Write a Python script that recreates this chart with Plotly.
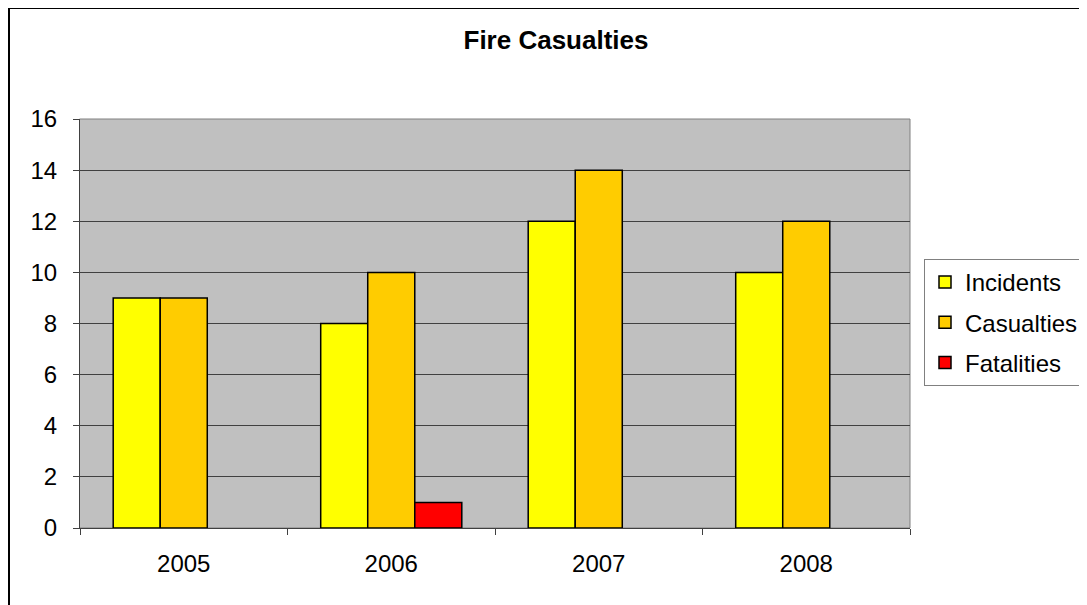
import plotly.graph_objects as go

years = ["2005", "2006", "2007", "2008"]
incidents = [9, 8, 12, 10]
casualties = [9, 10, 14, 12]
fatalities = [None, 1, None, None]

series = [
    ("Incidents", incidents, "#FFFF00"),
    ("Casualties", casualties, "#FFCC00"),
    ("Fatalities", fatalities, "#FF0000"),
]

FONT = "Liberation Sans, Arial, sans-serif"

fig = go.Figure()
for name, vals, col in series:
    fig.add_trace(go.Bar(
        x=years, y=vals, name=name,
        marker=dict(color=col, line=dict(color="#000000", width=1.5)),
        legendgroup=name,
    ))

# page body has an 8px margin; figure coordinates = reference - 8
OFF = 8
W, H = 1130, 605 - OFF
L, R, T, B = 80 - OFF, W - (910 - OFF), 119 - OFF, H - (528 - OFF)
pw, ph = W - L - R, H - T - B


def px_x(p):
    return (p - OFF - L) / pw


def px_y(p):
    return (H - B - (p - OFF)) / ph


fig.update_layout(
    width=W, height=H,
    margin=dict(l=L, r=R, t=T, b=B, pad=0),
    paper_bgcolor="white",
    plot_bgcolor="#C0C0C0",
    barmode="group",
    bargap=0.32,
    bargroupgap=0,
    font=dict(family=FONT, size=24, color="#000000"),
    title=dict(text="<b>Fire Casualties</b>", font=dict(family=FONT, size=26),
               x=px_x(556), xref="paper", xanchor="center",
               y=1 - (40 - OFF) / H, yref="container", yanchor="middle"),
    showlegend=True,
    legend=dict(
        x=px_x(924), xanchor="left", y=px_y(259), yanchor="top",
        bordercolor="#808080", borderwidth=1, bgcolor="white",
        font=dict(family=FONT, size=24),
        traceorder="grouped", tracegroupgap=6, itemwidth=30,
    ),
    xaxis=dict(
        type="category", tickson="boundaries", ticks="outside", ticklen=6,
        tickcolor="#404040", showline=True, linecolor="#404040", linewidth=1,
        showgrid=False, ticklabelstandoff=14,
    ),
    yaxis=dict(
        range=[0, 16], dtick=2, ticks="outside", ticklen=6, tickcolor="#404040",
        showline=True, linecolor="#404040", linewidth=1,
        showgrid=True, gridcolor="#404040", gridwidth=1, zeroline=False,
        ticklabelstandoff=11,
    ),
    shapes=[
        dict(type="rect", xref="paper", yref="paper",
             x0=px_x(79.5), x1=px_x(910), y0=0, y1=1,
             line=dict(color="#808080", width=1), fillcolor="rgba(0,0,0,0)", layer="below"),
        dict(type="rect", xref="paper", yref="paper",
             x0=px_x(9), x1=px_x(1130), y0=px_y(650), y1=px_y(8),
             line=dict(color="#000000", width=2), fillcolor="rgba(0,0,0,0)"),
    ],
)

fig.write_html("out.html")
